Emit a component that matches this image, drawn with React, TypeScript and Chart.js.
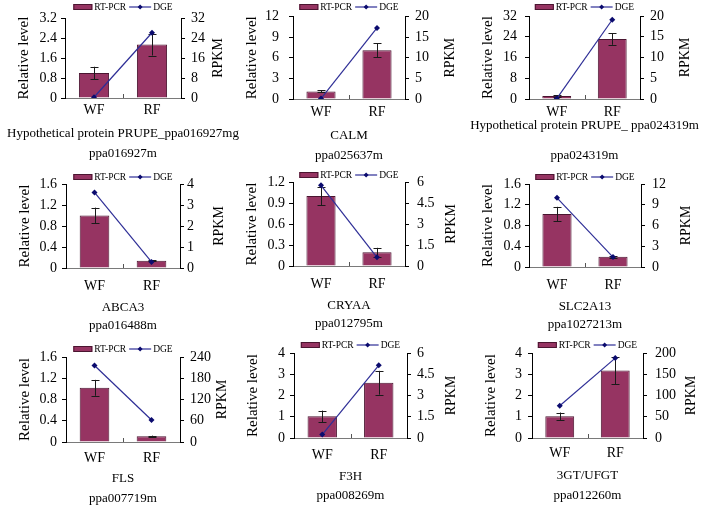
import { useEffect, useRef } from "react";
import { Chart, registerables } from "chart.js";

Chart.register(...registerables);

const FONT = "'Liberation Serif', 'Times New Roman', serif";
const BAR = "#963462";
const BAR_BORDER = "#4a1530";
const LINE = "#2e2e96";
const POINT = "#0b0b6e";

// ---------- data ----------
const categories = ["WF", "RF"];
const seriesNames = ["RT-PCR", "DGE"];
const geneNames = [
  "Hypothetical protein PRUPE_ppa016927mg",
  "CALM",
  "Hypothetical protein PRUPE_ ppa024319m",
  "ABCA3",
  "CRYAA",
  "SLC2A13",
  "FLS",
  "F3H",
  "3GT/UFGT",
];
const geneIds = [
  "ppa016927m",
  "ppa025637m",
  "ppa024319m",
  "ppa016488m",
  "ppa012795m",
  "ppa1027213m",
  "ppa007719m",
  "ppa008269m",
  "ppa012260m",
];
const rtPcr = [
  [1.0, 2.14],
  [1.1, 7.08],
  [1.15, 23.1],
  [1.0, 0.14],
  [1.0, 0.195],
  [1.02, 0.2],
  [1.02, 0.11],
  [1.02, 2.6],
  [1.02, 3.18],
];
const rtPcrErr = [
  [0.25, 0.44],
  [0.15, 1.0],
  [0.3, 2.2],
  [0.15, 0.01],
  [0.13, 0.065],
  [0.14, 0.02],
  [0.15, 0.01],
  [0.27, 0.56],
  [0.18, 0.65],
];
const dge = [
  [0.3, 26.1],
  [0.1, 17.2],
  [0.1, 19.1],
  [3.6, 0.29],
  [5.76, 0.62],
  [10.0, 1.44],
  [216, 62],
  [0.24, 5.13],
  [76, 188],
];
const leftMax = [3.2, 12, 32, 1.6, 1.2, 1.6, 1.6, 4, 4];
const leftStep = [0.8, 3, 8, 0.4, 0.3, 0.4, 0.4, 1, 1];
const rightMax = [32, 20, 20, 4, 6, 12, 240, 6, 200];
const rightStep = [8, 5, 5, 1, 1.5, 3, 60, 1.5, 50];

// ---------- layout (page pixels) ----------
type Layout = {
  L: number; R: number; T: number; B: number;
  legY: number; xlabY: number; geneY: number; ppaY: number;
  lpad: number; rpad: number; rg: number;
};
const layouts: Layout[] = [
  { L: 65, R: 181, T: 18, B: 98, legY: 7, xlabY: 110, geneY: 133, ppaY: 153, lpad: 4, rpad: 6, rg: 37 },
  { L: 293, R: 405, T: 16, B: 99, legY: 7, xlabY: 112, geneY: 135, ppaY: 155, lpad: 10, rpad: 6, rg: 45 },
  { L: 529, R: 640, T: 16, B: 99, legY: 7, xlabY: 112, geneY: 125, ppaY: 155, lpad: 8, rpad: 6, rg: 45 },
  { L: 66, R: 180, T: 184, B: 268, legY: 177, xlabY: 286, geneY: 307, ppaY: 325, lpad: 5, rpad: 3, rg: 39 },
  { L: 293, R: 405, T: 182, B: 266, legY: 175, xlabY: 284, geneY: 305, ppaY: 323, lpad: 4, rpad: 8, rg: 46 },
  { L: 529, R: 641, T: 184, B: 267, legY: 177, xlabY: 285, geneY: 306, ppaY: 324, lpad: 4, rpad: 7, rg: 45 },
  { L: 66, R: 180, T: 357, B: 442, legY: 349, xlabY: 458, geneY: 478, ppaY: 498, lpad: 5, rpad: 6, rg: 42 },
  { L: 294, R: 407, T: 353, B: 438, legY: 345, xlabY: 455, geneY: 476, ppaY: 495, lpad: 5, rpad: 6, rg: 44 },
  { L: 532, R: 643, T: 353, B: 438, legY: 345, xlabY: 453, geneY: 475, ppaY: 495, lpad: 6, rpad: 8, rg: 48 },
];

const LEFT_W = 55;
const RIGHT_W = 60;
const TOP_PAD = 18;
const X_H = 26;

const fmt = (v: number) => String(Number(Number(v).toFixed(3)));

const errorBarPlugin = {
  id: "errBars",
  afterDatasetDraw(chart: any, args: any, opts: any) {
    if (args.index !== 0) return;
    const { ctx } = chart;
    const yS = chart.scales.y;
    const vals = chart.data.datasets[0].data as number[];
    const errs = opts.errors as number[];
    ctx.save();
    ctx.strokeStyle = "#1a1a1a";
    ctx.lineWidth = 1;
    args.meta.data.forEach((bar: any, i: number) => {
      const x = Math.round(bar.x) + 0.5;
      const t = yS.getPixelForValue(vals[i] + errs[i]);
      const b = yS.getPixelForValue(vals[i] - errs[i]);
      ctx.beginPath();
      ctx.moveTo(x, t);
      ctx.lineTo(x, b);
      ctx.moveTo(x - 4, Math.round(t) + 0.5);
      ctx.lineTo(x + 4, Math.round(t) + 0.5);
      ctx.moveTo(x - 4, Math.round(b) + 0.5);
      ctx.lineTo(x + 4, Math.round(b) + 0.5);
      ctx.stroke();
    });
    ctx.restore();
  },
};

const decorPlugin = {
  id: "decor",
  afterDraw(chart: any, _args: any, opts: any) {
    const { ctx, chartArea } = chart;
    ctx.save();
    // inner tick between categories
    const xm = Math.round(chart.scales.x.getPixelForValue(0.5)) + 0.5;
    ctx.strokeStyle = "#555";
    ctx.lineWidth = 1;
    ctx.beginPath();
    ctx.moveTo(xm, chartArea.bottom);
    ctx.lineTo(xm, chartArea.bottom - 4);
    ctx.stroke();

    // right axis title (reads bottom-to-top)
    ctx.fillStyle = "#000";
    ctx.font = `14px ${FONT}`;
    ctx.textAlign = "center";
    ctx.textBaseline = "middle";
    ctx.translate(chartArea.right + opts.rightGap, (chartArea.top + chartArea.bottom) / 2);
    ctx.rotate(-Math.PI / 2);
    ctx.fillText(opts.rightTitle, 0, 0);
    ctx.restore();

    // legend
    ctx.save();
    const y = opts.legendY;
    ctx.font = `9.5px ${FONT}`;
    const t1 = chart.data.datasets[0].label;
    const t2 = chart.data.datasets[1].label;
    const w1 = ctx.measureText(t1).width;
    const w2 = ctx.measureText(t2).width;
    const sw = 19, lw = 22, g1 = 2, g2 = 3, g3 = 2;
    const total = sw + g1 + w1 + g2 + lw + g3 + w2;
    let x = (chartArea.left + chartArea.right) / 2 - total / 2;
    ctx.fillStyle = BAR;
    ctx.fillRect(x, y - 3, sw, 6);
    ctx.strokeStyle = BAR_BORDER;
    ctx.lineWidth = 1;
    ctx.strokeRect(x + 0.5, y - 2.5, sw - 1, 5);
    x += sw + g1;
    ctx.fillStyle = "#000";
    ctx.textAlign = "left";
    ctx.textBaseline = "middle";
    ctx.fillText(t1, x, y);
    x += w1 + g2;
    ctx.strokeStyle = LINE;
    ctx.lineWidth = 1.2;
    ctx.beginPath();
    ctx.moveTo(x, y);
    ctx.lineTo(x + lw, y);
    ctx.stroke();
    const cx = x + lw / 2;
    ctx.fillStyle = POINT;
    ctx.beginPath();
    ctx.moveTo(cx, y - 2.5);
    ctx.lineTo(cx + 2.5, y);
    ctx.lineTo(cx, y + 2.5);
    ctx.lineTo(cx - 2.5, y);
    ctx.closePath();
    ctx.fill();
    x += lw + g3;
    ctx.fillStyle = "#000";
    ctx.fillText(t2, x, y);
    ctx.restore();
  },
};

function Panel({ idx }: { idx: number }) {
  const ref = useRef<HTMLCanvasElement | null>(null);
  const lay = layouts[idx];
  const canvasLeft = lay.L - LEFT_W;
  const canvasTop = lay.T - TOP_PAD;
  const W = lay.R - lay.L + LEFT_W + RIGHT_W;
  const H = lay.B + X_H - canvasTop;

  useEffect(() => {
    if (!ref.current) return;
    const chart = new Chart(ref.current, {
      data: {
        labels: categories,
        datasets: [
          {
            type: "bar",
            label: seriesNames[0],
            data: rtPcr[idx],
            yAxisID: "y",
            backgroundColor: BAR,
            borderColor: BAR_BORDER,
            borderWidth: 1,
            categoryPercentage: 1,
            barPercentage: 0.52,
            order: 2,
          } as any,
          {
            type: "line",
            label: seriesNames[1],
            data: dge[idx],
            yAxisID: "y1",
            borderColor: LINE,
            borderWidth: 1.2,
            pointStyle: "rectRot",
            pointRadius: 3,
            pointBackgroundColor: POINT,
            pointBorderColor: POINT,
            pointBorderWidth: 0,
            order: 1,
          } as any,
        ],
      },
      options: {
        responsive: false,
        animation: false,
        events: [],
        layout: { padding: { top: TOP_PAD, left: 0, right: 0, bottom: 0 } },
        plugins: {
          legend: { display: false },
          tooltip: { enabled: false },
          errBars: { errors: rtPcrErr[idx] },
          decor: { rightTitle: "RPKM", rightGap: lay.rg, legendY: lay.legY - canvasTop },
        } as any,
        scales: {
          x: {
            type: "category",
            offset: true,
            grid: { display: false, drawTicks: false },
            border: { display: true, color: "#7a7a7a" },
            ticks: {
              color: "#000",
              font: { family: FONT, size: 14 },
              padding: lay.xlabY - lay.B - 8,
            },
            afterFit: (s: any) => {
              s.height = X_H;
            },
          },
          y: {
            type: "linear",
            position: "left",
            min: 0,
            max: leftMax[idx],
            grid: { drawOnChartArea: false, drawTicks: true, tickLength: 4, color: "#000" },
            border: { display: true, color: "#000" },
            ticks: {
              stepSize: leftStep[idx],
              color: "#000",
              font: { family: FONT, size: 14 },
              padding: lay.lpad,
              callback: (v: any) => fmt(v),
            },
            title: {
              display: true,
              text: "Relative level",
              color: "#000",
              font: { family: FONT, size: 15 },
              padding: { top: 5, bottom: 0 },
            },
            afterFit: (s: any) => {
              s.width = LEFT_W;
            },
          },
          y1: {
            type: "linear",
            position: "right",
            min: 0,
            max: rightMax[idx],
            grid: { drawOnChartArea: false, drawTicks: true, tickLength: 4, color: "#000" },
            border: { display: true, color: "#000" },
            ticks: {
              stepSize: rightStep[idx],
              color: "#000",
              font: { family: FONT, size: 14 },
              padding: lay.rpad,
              callback: (v: any) => fmt(v),
            },
            afterFit: (s: any) => {
              s.width = RIGHT_W;
            },
          },
        },
      } as any,
      plugins: [errorBarPlugin, decorPlugin],
    } as any);
    return () => chart.destroy();
  }, [idx]);

  const cx = (lay.L + lay.R) / 2;
  const textStyle = (y: number): any => ({
    position: "absolute",
    left: cx - 150,
    width: 300,
    top: y - 10,
    height: 20,
    lineHeight: "20px",
    textAlign: "center",
    whiteSpace: "nowrap",
    fontFamily: FONT,
    fontSize: 13,
    color: "#000",
  });

  return (
    <>
      <canvas
        ref={ref}
        width={W}
        height={H}
        style={{ position: "absolute", left: canvasLeft, top: canvasTop, width: W, height: H }}
      />
      <div style={textStyle(lay.geneY)}>{geneNames[idx]}</div>
      <div style={textStyle(lay.ppaY)}>{geneIds[idx]}</div>
    </>
  );
}

export default function App() {
  return (
    <div
      style={{
        position: "absolute",
        left: 0,
        top: 0,
        width: 708,
        height: 507,
        background: "#fff",
        overflow: "hidden",
      }}
    >
      {layouts.map((_, i) => (
        <Panel key={i} idx={i} />
      ))}
    </div>
  );
}
